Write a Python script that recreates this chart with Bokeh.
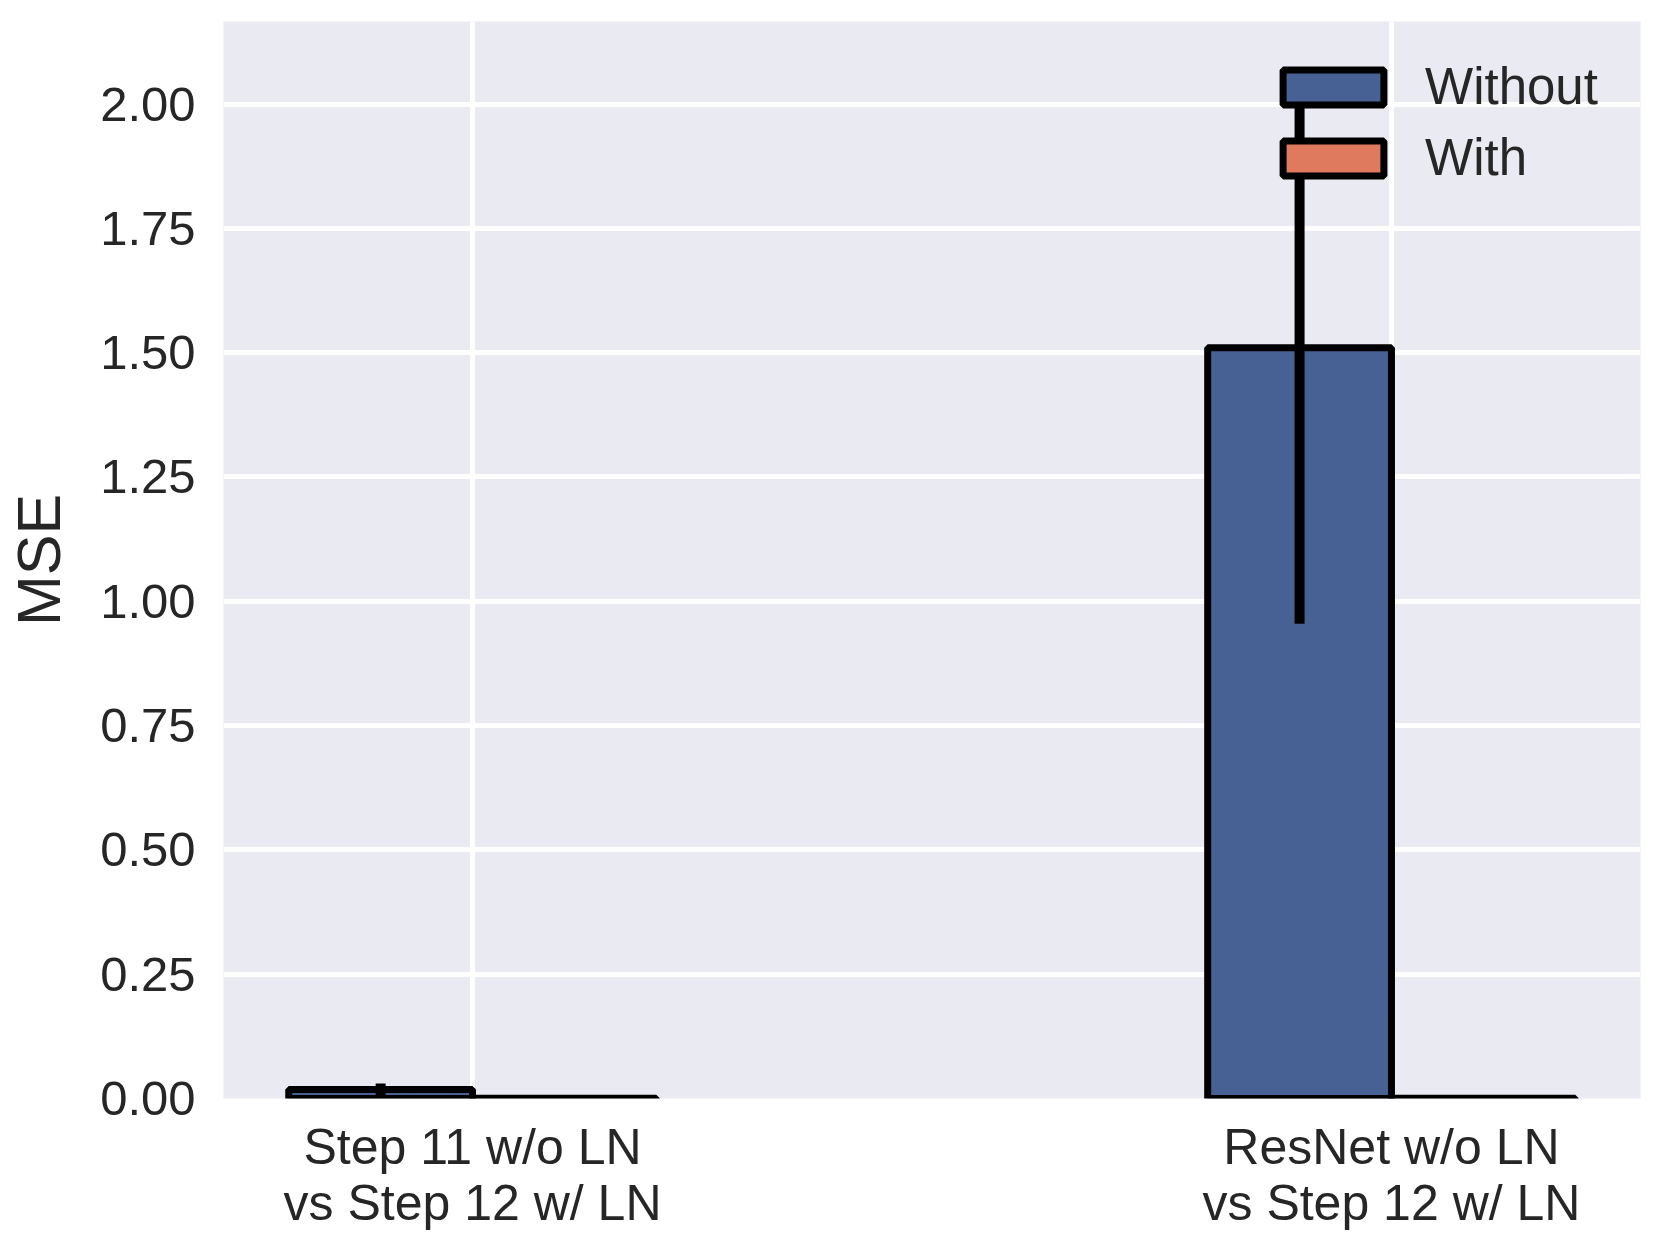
from bokeh.plotting import figure
from bokeh.models import Range1d, FixedTicker, ColumnDataSource, Legend, LegendItem, NumeralTickFormatter
from bokeh.transform import dodge
from bokeh.embed import file_html
from bokeh.resources import INLINE

categories = ["Step 11 w/o LN\nvs Step 12 w/ LN", "ResNet w/o LN\nvs Step 12 w/ LN"]
without_vals = [0.018, 1.51]
without_err = [0.012, 0.555]
with_vals = [0.0005, 0.0005]
y_ticks = [0.0, 0.25, 0.5, 0.75, 1.0, 1.25, 1.5, 1.75, 2.0]

xs = list(range(len(categories)))
src = ColumnDataSource(dict(
    x=xs,
    without=without_vals,
    with_=with_vals,
    lo=[v - e for v, e in zip(without_vals, without_err)],
    hi=[v + e for v, e in zip(without_vals, without_err)],
))

FONT = "Liberation Sans"
TXT = "#262626"
BLUE = "#486194"
ORANGE = "#e07a5f"

p = figure(frame_width=1417, frame_height=1077, output_backend="svg", toolbar_location=None,
           x_range=Range1d(-0.271, 1.271), y_range=Range1d(0, 2.166),
           min_border_left=223, min_border_right=8, min_border_top=21, min_border_bottom=130)
p.background_fill_color = "#eaeaf2"
p.border_fill_color = "white"
p.outline_line_color = None

r1 = p.vbar(x=dodge("x", -0.1), top="without", width=0.2, source=src,
            fill_color=BLUE, line_color="black", line_width=7)
r2 = p.vbar(x=dodge("x", 0.1), top="with_", width=0.2, source=src,
            fill_color=ORANGE, line_color="black", line_width=7)
p.segment(x0=dodge("x", -0.1), x1=dodge("x", -0.1), y0="lo", y1="hi", source=src,
          line_color="black", line_width=10, line_cap="butt")

# axes
p.xaxis.ticker = FixedTicker(ticks=xs)
p.xaxis.major_label_overrides = {i: c for i, c in enumerate(categories)}
p.yaxis.ticker = FixedTicker(ticks=y_ticks)
p.yaxis.formatter = NumeralTickFormatter(format="0.00")
for ax in (p.xaxis, p.yaxis):
    ax.axis_line_color = None
    ax.major_tick_line_color = None
    ax.minor_tick_line_color = None
    ax.major_label_text_font = FONT
    ax.major_label_text_color = TXT
p.xaxis.major_label_text_font_size = "50px"
p.yaxis.major_label_text_font_size = "49px"
p.xaxis.major_label_text_line_height = 1.0
p.yaxis.major_label_standoff = 22
p.xaxis.major_label_standoff = 14
p.yaxis.axis_label = "MSE"
p.yaxis.axis_label_text_font = FONT
p.yaxis.axis_label_text_font_size = "61px"
p.yaxis.axis_label_text_font_style = "normal"
p.yaxis.axis_label_text_color = TXT
p.yaxis.axis_label_standoff = 24

p.xgrid.grid_line_color = "white"
p.xgrid.grid_line_width = 5
p.ygrid.grid_line_color = "white"
p.ygrid.grid_line_width = 5

legend = Legend(items=[LegendItem(label="Without", renderers=[r1]),
                       LegendItem(label="With", renderers=[r2])],
                location="top_right")
legend.background_fill_alpha = 0
legend.border_line_alpha = 0
legend.margin = 0
legend.padding = 36
legend.glyph_width = 126
legend.glyph_height = 44
legend.label_standoff = 29
legend.label_width = 179
legend.spacing = 12
legend.label_text_font = FONT
legend.label_text_font_size = "51px"
legend.label_text_color = TXT
p.add_layout(legend)

open("out.html", "w").write(file_html(p, INLINE))
